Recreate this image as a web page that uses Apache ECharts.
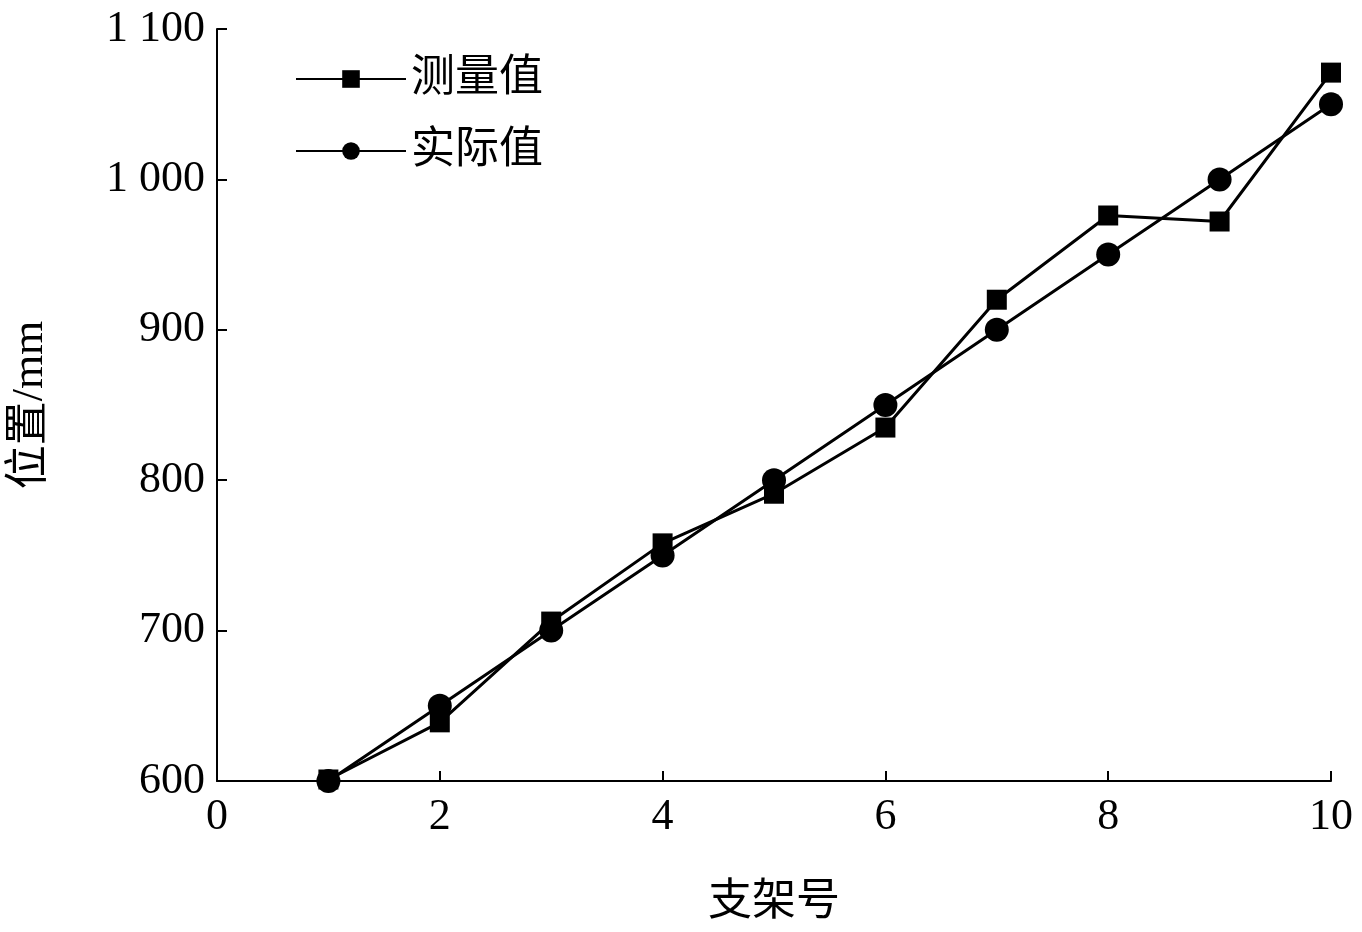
<!DOCTYPE html>
<html><head><meta charset="utf-8">
<script src="https://cdn.jsdelivr.net/npm/echarts@6/dist/echarts.min.js"></script>
<style>html,body{margin:0;background:#fff}#c{width:1362px;height:932px}</style>
</head><body><div id="c"></div>
<script>
const xVals=[1,2,3,4,5,6,7,8,9,10];
const measured=[601,639,706,758,791,835,920,976,972,1071];
const actual=[600,650,700,750,800,850,900,950,1000,1050];
const ch=echarts.init(document.getElementById('c'));
const font='"Liberation Serif","Noto Sans CJK SC",serif';
const line={lineStyle:{color:'#000',width:2}};
const tick={inside:true,length:10,lineStyle:{color:'#000',width:2}};
const lab={color:'#000',fontSize:44,fontFamily:font};
ch.setOption({
 animation:false,
 grid:{left:217,right:31,top:29,bottom:151},
 legend:{left:290,top:52,orient:'vertical',itemGap:28,itemWidth:110,itemHeight:22,
  textStyle:{fontSize:44,fontFamily:font,color:'#000'}},
 xAxis:{type:'value',min:0,max:10,interval:2,name:'支架号',nameLocation:'middle',nameGap:100,
  nameTextStyle:{fontSize:44,fontFamily:font,color:'#000'},axisLine:line,axisTick:tick,
  axisLabel:Object.assign({margin:14},lab),splitLine:{show:false}},
 yAxis:{type:'value',min:600,max:1100,interval:100,name:'位置/mm',nameLocation:'middle',nameGap:165,
  nameTextStyle:{fontSize:44,fontFamily:font,color:'#000'},axisLine:line,axisTick:tick,splitLine:{show:false},
  axisLabel:Object.assign({margin:12,formatter:v=>v>=1000?'1 '+String(v).slice(1):String(v)},lab)},
 series:[
  {name:'测量值',type:'line',data:xVals.map((x,i)=>[x,measured[i]]),symbol:'rect',symbolSize:20,
   lineStyle:{color:'#000',width:3},itemStyle:{color:'#000'}},
  {name:'实际值',type:'line',data:xVals.map((x,i)=>[x,actual[i]]),symbol:'circle',symbolSize:24,
   lineStyle:{color:'#000',width:3},itemStyle:{color:'#000'}}
 ]
});
</script></body></html>
